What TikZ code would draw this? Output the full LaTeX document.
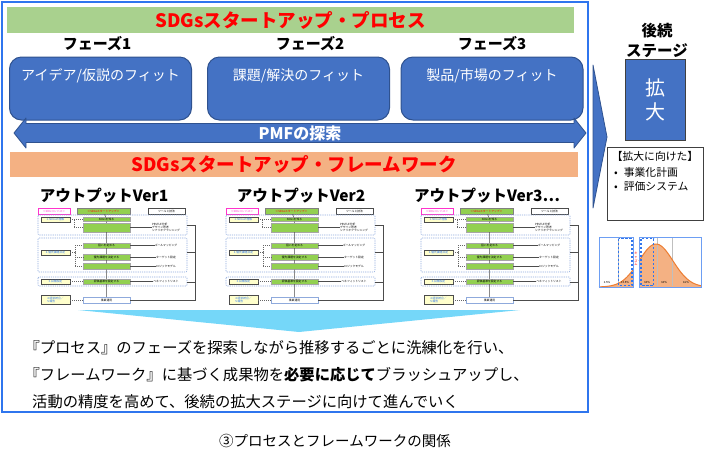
\documentclass[tikz,border=0pt]{standalone}
\usepackage{fontspec}
\setmainfont{Noto Sans CJK JP}
\usetikzlibrary{positioning,calc}
\definecolor{sdgFrame}{HTML}{2F75EE}
\definecolor{sdgGreen}{HTML}{A9D18E}
\definecolor{sdgRed}{HTML}{FF0000}
\definecolor{sdgBlue}{HTML}{4472C4}
\definecolor{sdgNavy}{HTML}{2F528F}
\definecolor{sdgOrange}{HTML}{F4B183}
\definecolor{sdgDeep}{HTML}{ED7D31}
\definecolor{sdgCyan}{HTML}{75D7F9}
\definecolor{sdgLeaf}{HTML}{92D050}
\definecolor{sdgCream}{HTML}{FFFFCC}
\definecolor{sdgDash}{HTML}{8FAADC}
\definecolor{sdgPink}{HTML}{FF33CC}
\definecolor{sdgInk}{HTML}{404040}
\tikzset{
  outerframe/.style={
    draw=sdgFrame,
    line width=1.6pt
  },
  banner/.style={
    fill=#1,
    draw=none,
    inner sep=0pt,
    text=sdgRed,
    font=\bfseries\fontsize{18.5pt}{20pt}\selectfont
  },
  phasehead/.style={
    inner sep=0pt,
    font=\bfseries\fontsize{15pt}{17pt}\selectfont
  },
  phasebox/.style={
    rounded corners=12pt,
    draw=sdgNavy,
    fill=sdgBlue,
    line width=1pt,
    minimum width=182pt,
    minimum height=63pt,
    inner sep=0pt
  },
  phasetext/.style={
    text=white,
    inner sep=0pt,
    font=\fontsize{14pt}{16pt}\selectfont
  },
  pmfshape/.style={
    draw=sdgNavy,
    fill=sdgBlue,
    line width=0.8pt,
    line join=round
  },
  pmftext/.style={
    text=white,
    inner sep=0pt,
    font=\bfseries\fontsize{16pt}{18pt}\selectfont
  },
  outhead/.style={
    inner sep=0pt,
    font=\bfseries\fontsize{15.5pt}{17pt}\selectfont
  },
  bodytext/.style={
    anchor=west,
    inner sep=0pt,
    text=black,
    font=\fontsize{15.3pt}{17pt}\selectfont
  },
  captiontext/.style={
    inner sep=0pt,
    font=\fontsize{14.5pt}{16pt}\selectfont
  },
  stagehead/.style={
    inner sep=0pt,
    align=center,
    font=\bfseries\fontsize{15.5pt}{20pt}\selectfont
  },
  scalebox/.style={
    draw=sdgInk,
    fill=sdgBlue,
    line width=0.8pt,
    minimum width=60pt,
    minimum height=81pt,
    text=white,
    align=center,
    font=\fontsize{20pt}{24pt}\selectfont
  },
  planbox/.style={
    draw=sdgInk,
    fill=white,
    line width=0.9pt,
    minimum width=96pt,
    minimum height=73pt
  },
  plantext/.style={
    inner sep=0pt,
    font=\fontsize{10.8pt}{13pt}\selectfont
  },
  chartframe/.style={
    draw=sdgFrame!70,
    line width=0.9pt
  },
  chartdash/.style={
    draw=sdgFrame,
    line width=1.1pt,
    dash pattern=on 2.5pt off 1.5pt
  },
  tinytext/.style={
    inner sep=0pt,
    font=\fontsize{2.8pt}{3.2pt}\selectfont
  },
  tag/.style={
    draw,
    fill=white,
    inner sep=0pt,
    minimum height=6pt,
    line width=0.4pt,
    font=\fontsize{2.8pt}{3.2pt}\selectfont
  },
  grp/.style={
    draw=sdgDash,
    line width=0.6pt,
    dash pattern=on 1.2pt off 1pt,
    rounded corners=1pt
  },
  stepnote/.style={
    draw=black!70,
    fill=sdgCream,
    inner sep=0pt,
    minimum width=29pt,
    line width=0.4pt,
    text=sdgFrame,
    align=left,
    font=\fontsize{2.8pt}{3.2pt}\selectfont
  },
  greenbar/.style={
    draw=gray!70,
    fill=sdgLeaf,
    inner sep=0pt,
    minimum width=47pt,
    line width=0.3pt,
    font=\fontsize{2.8pt}{3.2pt}\selectfont
  },
  spine/.style={
    draw=black!70,
    line width=0.5pt
  },
  dotlink/.style={
    draw=black!60,
    line width=0.4pt,
    dash pattern=on 1pt off 1pt
  },
  outthumb/.pic={
    \node[tag, draw=sdgPink, text=sdgPink, minimum width=32pt] (-compass) at (19,11) {＜SDGコンパス＞};
    \node[tag, draw=gray, fill=sdgLeaf, text=sdgRed, minimum width=53pt] (-startup) at (68.5,11) {＜SDGsスタートアップ＞};
    \node[tag, draw=black!70, minimum width=37pt] (-tools) at (131.5,11) {ツールと技法};
    \draw[grp] (3,15) rectangle (152,35);
    \draw[grp] (3,38) rectangle (152,72);
    \draw[grp] (3,77) rectangle (152,86);
    \node[stepnote, minimum height=5pt] (-s1) at (20.5,19.5) {1.SDGsの理解};
    \node[stepnote, minimum height=5pt] (-s2) at (20.5,52.5) {2.優先課題決定};
    \node[stepnote, minimum height=5pt] (-s3) at (20.5,81.5) {3.目標設定};
    \node[stepnote, minimum height=9pt] (-s4) at (20.5,100) {4.経営統合／\\5.報告};
    \node[greenbar, minimum height=4pt] (-b1) at (71.5,19.5) {SDGsを知る};
    \node[greenbar, minimum height=9pt] (-b2) at (71.5,27.5) {};
    \node[greenbar, minimum height=5pt] (-b3) at (71.5,45.5) {狙いを定める};
    \node[greenbar, minimum height=5.5pt] (-b4) at (71.5,57) {優先課題を決定する};
    \node[greenbar, minimum height=6pt] (-b5) at (71.5,66.5) {};
    \node[greenbar, minimum height=5pt] (-b6) at (71.5,81.5) {評価基準を設定する};
    \node[greenbar, fill=white, draw=sdgDash, minimum height=6pt] (-b7) at (71.5,100) {事業運用};
    \node[tinytext, align=left] (-t1) at (131,27.5) {PESTLE分析\\デザイン思考\\シナリオプランニング};
    \node[tinytext] (-t2) at (131,45.5) {ゴールマッピング};
    \node[tinytext] (-t3) at (131,57) {ターゲット設定};
    \node[tinytext] (-t4) at (131,66.5) {ロジックモデル};
    \node[tinytext] (-t5) at (131,81.5) {ベネフィットリスト};
    \coordinate (-busA) at (160,25);
    \coordinate (-busB) at (160,100);
    \draw[spine] (-startup) -- (-b1) -- (-b2) -- (-b3) -- (-b4) -- (-b5) -- (-b6) -- (-b7);
    \draw[dotlink] (-s1) -- (-b1);
    \draw[dotlink] (-s1.east) -- ++(4,0) |- (-b2.west);
    \draw[dotlink] (-s2.east) -- ++(5,0) |- (-b3.west);
    \draw[dotlink] (-s2.east) ++(5,0) |- (-b4.west);
    \draw[dotlink] (-s2.east) ++(5,0) |- (-b5.west);
    \draw[dotlink] (-s3) -- (-b6);
    \draw[dotlink] (-s4) -- (-b7);
    \draw[spine] (-b2) -- (-t1);
    \draw[spine] (-b3) -- (-t2);
    \draw[spine] (-b4) -- (-t3);
    \draw[spine] (-b5) -- (-t4);
    \draw[spine] (-b6) -- (-t5);
    \draw[spine] (-busA) -- ++(-8,0);
    \draw[spine] (-busA) -- (-busB) -- (-b7);
    \draw[spine] (-busA) ++(0,27) -- ++(-8,0);
    \draw[spine] (-busA) ++(0,57) -- ++(-8,0);
  }
}

\begin{document}
\begin{tikzpicture}[x=1pt,y=-1pt]
\useasboundingbox (0,0) rectangle (706,464);

\draw[outerframe] (2,2) rectangle (588,412);

\node[banner=sdgGreen, minimum width=567pt, minimum height=26pt] (procbar) at (290.5,20) {SDGsスタートアップ・プロセス};

\node[phasehead] (headA) at (97,44) {フェーズ1};
\node[phasehead] (headB) at (310,44) {フェーズ2};
\node[phasehead] (headC) at (492,44) {フェーズ3};

\node[phasebox] (fitA) at (100.5,88.5) {};
\node[phasebox] (fitB) at (298.5,88.5) {};
\node[phasebox] (fitC) at (492,88.5) {};
\node[phasetext, below=12pt of fitA.north] (fitAtext) {アイデア/仮説のフィット};
\node[phasetext, below=12pt of fitB.north] (fitBtext) {課題/解決のフィット};
\node[phasetext, below=12pt of fitC.north] (fitCtext) {製品/市場のフィット};

\draw[pmfshape] (14,133) -- (26,118) -- (26,123.5) -- (574,123.5) -- (574,118) -- (586,133) -- (574,148) -- (574,142.5) -- (26,142.5) -- (26,148) -- cycle;
\node[pmftext] (pmf) at (300,133) {PMFの探索};

\node[banner=sdgOrange, minimum width=568pt, minimum height=25pt] (fwbar) at (294,164.5) {SDGsスタートアップ・フレームワーク};

\node[outhead] (outA) at (104,196) {アウトプットVer1};
\node[outhead] (outB) at (301,196) {アウトプットVer2};
\node[outhead] (outC) at (487,196) {アウトプットVer3⋯};

\pic (verA) at (35,200) {outthumb};
\pic (verB) at (223,200) {outthumb};
\pic (verC) at (418,200) {outthumb};

\fill[sdgCyan] (78,310) -- (520,310) -- (299,332) -- cycle;

\node[bodytext] (noteA) at (32,348) {\kern-.5em『プロセス』のフェーズを探索しながら推移するごとに洗練化を行い、};
\node[bodytext] (noteB) at (32,375) {\kern-.5em『フレームワーク』に基づく成果物を\textbf{必要に応じて}ブラッシュアップし、};
\node[bodytext] (noteC) at (32,402) {活動の精度を高めて、後続の拡大ステージに向けて進んでいく};

\node[captiontext] (cap) at (335,441) {③プロセスとフレームワークの関係};

\draw[pmfshape] (593,65) -- (607,137) -- (593,208) -- cycle;

\node[stagehead] (stage) at (657,40) {後続\\ステージ};
\node[scalebox] (scale) at (655,99.5) {拡\\大};

\node[planbox] (plan) at (655,183.5) {};
\node[plantext, below=5pt of plan.north] (planhead) {【拡大に向けた】};
\node[plantext, anchor=west] (planA) at (614,172) {•\hspace{6pt}事業化計画};
\node[plantext, anchor=west] (planB) at (614,186) {•\hspace{6pt}評価システム};

\fill[white] (599,237) rectangle (633,287);
\fill[white] (639,237) rectangle (701,287);
\fill[sdgOrange] plot[domain=599:633, samples=30] ({\x},{287-43*exp(-((\x-656)/17)^2/2)}) -- (633,287) -- (599,287) -- cycle;
\fill[sdgOrange] plot[domain=639:701, samples=50] ({\x},{287-43*exp(-((\x-656)/17)^2/2)}) -- (701,287) -- (639,287) -- cycle;
\draw[black!25, line width=0.5pt] (618,238) -- (618,286) (657,238) -- (657,286) (672,238) -- (672,286);
\draw[sdgDeep, line width=1pt] plot[domain=599:633, samples=30] ({\x},{287-43*exp(-((\x-656)/17)^2/2)});
\draw[sdgDeep, line width=1pt] plot[domain=639:701, samples=50] ({\x},{287-43*exp(-((\x-656)/17)^2/2)});
\draw[chartdash] (618.5,238.5) rectangle (632,285.5);
\draw[chartdash] (641,238.5) rectangle (653.5,285.5);
\draw[chartframe] (599,237) rectangle (633,287);
\draw[chartframe] (639,237) rectangle (701,287);
\node[tinytext] (pctA) at (607,282) {2.5\%};
\node[tinytext] (pctB) at (625,282) {13.5\%};
\node[tinytext] (pctC) at (647,282) {34\%};
\node[tinytext] (pctD) at (664,282) {34\%};
\node[tinytext] (pctE) at (686,282) {16\%};
\node[tinytext, align=center, text=sdgRed, font=\fontsize{3.2pt}{3.6pt}\selectfont] (chasm) at (636,259) {キ\\ャ\\ズ\\ム};

\end{tikzpicture}
\end{document}
